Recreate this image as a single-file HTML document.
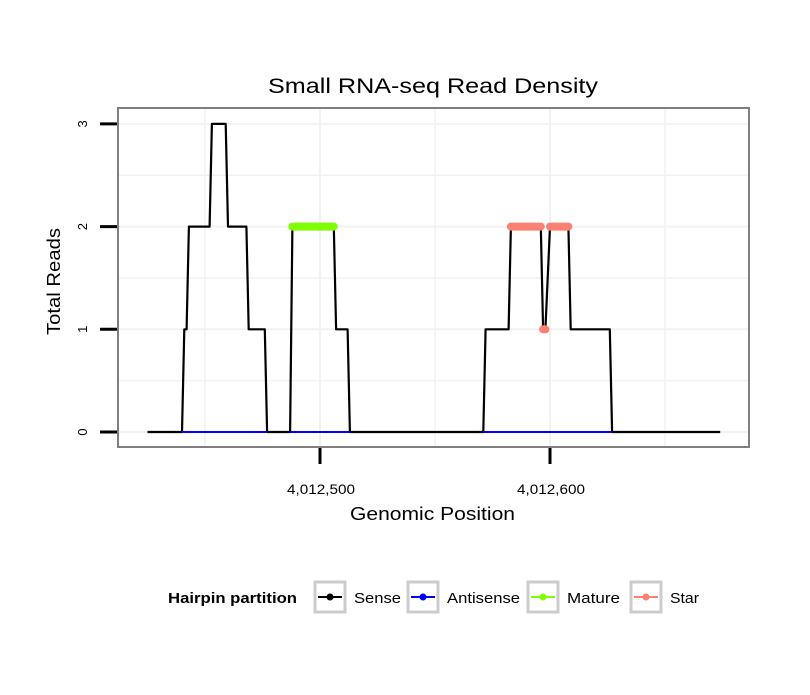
<!DOCTYPE html>
<html><head><meta charset="utf-8"><style>
body{margin:0;background:#fff;font-family:"Liberation Sans",sans-serif}
</style></head><body>
<svg id="chart" width="810" height="690" xmlns="http://www.w3.org/2000/svg">
<rect width="810" height="690" fill="#fff"/>
<text x="268" y="93" font-size="21" textLength="330" lengthAdjust="spacingAndGlyphs">Small RNA-seq Read Density</text>
<g id="grid"></g>
<g id="marks"></g>
<rect x="118" y="108" width="631" height="339" fill="none" stroke="#7f7f7f" stroke-width="2"/>
<g id="axes"></g>
<text x="350" y="520" font-size="18.5" textLength="165" lengthAdjust="spacingAndGlyphs">Genomic Position</text>
<text transform="translate(60,335) rotate(-90)" font-size="18.5" textLength="107" lengthAdjust="spacingAndGlyphs">Total Reads</text>
<g>
<text x="168" y="603" font-size="15" font-weight="bold" textLength="129" lengthAdjust="spacingAndGlyphs">Hairpin partition</text>
<g><rect x="315" y="582" width="30" height="30" fill="none" stroke="#ccc" stroke-width="3"/><line x1="318" y1="597" x2="342" y2="597" stroke="#000" stroke-width="2"/><circle cx="330" cy="597" r="3.5" fill="#000"/><text x="354" y="603" font-size="15" textLength="47" lengthAdjust="spacingAndGlyphs">Sense</text></g>
<g><rect x="408" y="582" width="30" height="30" fill="none" stroke="#ccc" stroke-width="3"/><line x1="411" y1="597" x2="435" y2="597" stroke="#00f" stroke-width="2"/><circle cx="423" cy="597" r="3.5" fill="#00f"/><text x="447" y="603" font-size="15" textLength="73" lengthAdjust="spacingAndGlyphs">Antisense</text></g>
<g><rect x="528" y="582" width="30" height="30" fill="none" stroke="#ccc" stroke-width="3"/><line x1="531" y1="597" x2="555" y2="597" stroke="#7fff00" stroke-width="2"/><circle cx="543" cy="597" r="3.5" fill="#7fff00"/><text x="567" y="603" font-size="15" textLength="53" lengthAdjust="spacingAndGlyphs">Mature</text></g>
<g><rect x="631" y="582" width="30" height="30" fill="none" stroke="#ccc" stroke-width="3"/><line x1="634" y1="597" x2="658" y2="597" stroke="#fa8072" stroke-width="2"/><circle cx="646" cy="597" r="3.5" fill="#fa8072"/><text x="670" y="603" font-size="15" textLength="29" lengthAdjust="spacingAndGlyphs">Star</text></g>
</g>
</svg>
<script>
const sensePos = [4012425,4012440,4012441,4012442,4012443,4012452,4012453,4012459,4012460,4012468,4012469,4012476,4012477,4012487,4012488,4012506,4012507,4012512,4012513,4012571,4012572,4012582,4012583,4012596,4012597,4012598,4012600,4012608,4012609,4012626,4012627,4012674];
const senseVal = [0,0,1,1,2,2,3,3,2,2,1,1,0,0,2,2,1,1,0,0,1,1,2,2,1,1,2,2,1,1,0,0];
const antisenseStart = [4012440,4012487,4012571];
const antisenseEnd = [4012477,4012513,4012627];
const matureStart = [4012488];
const matureEnd = [4012506];
const matureVal = [2];
const starStart = [4012583,4012597,4012600];
const starEnd = [4012596,4012598,4012608];
const starVal = [2,1,2];
const xTicks = [4012500,4012600];
const xTickLabels = ["4,012,500","4,012,600"];
const yTicks = [0,1,2,3];

const X = v => 320 + (v - 4012500) * 2.3;
const Y = v => 432 - v * 102.7;
const NS = "http://www.w3.org/2000/svg";
function mk(tag, attrs, parent){const e=document.createElementNS(NS,tag);for(const k in attrs)e.setAttribute(k,attrs[k]);parent.appendChild(e);return e;}
const grid=document.getElementById('grid'), marks=document.getElementById('marks'), axes=document.getElementById('axes');
for(let v=-0.5; v<=3.5; v+=0.5){const y=Y(v); if(y<109||y>446) continue;
 const l=mk('line',{x1:119,x2:748,y1:y,y2:y,stroke:'#f2f2f2','stroke-width':Number.isInteger(v)?2:1.5},grid);
 
 }
for(let v=4012350; v<=4012750; v+=50){const x=X(v); if(x<119||x>748) continue;
 const l=mk('line',{x1:x,x2:x,y1:109,y2:446,stroke:'#f2f2f2','stroke-width':v%100===0?2:1.5},grid);
 
 }
const sp=mk('polyline',{points:sensePos.map((p,i)=>X(p)+','+Y(senseVal[i])).join(' '),fill:'none',stroke:'#000','stroke-width':2.2,'stroke-linejoin':'round'},marks);


antisenseStart.forEach((s,i)=>{const l=mk('line',{x1:X(s),x2:X(antisenseEnd[i]),y1:Y(0),y2:Y(0),stroke:'#00f','stroke-width':2},marks);
 
 });
matureStart.forEach((s,i)=>{const l=mk('line',{x1:X(s),x2:X(matureEnd[i]),y1:Y(matureVal[i]),y2:Y(matureVal[i]),stroke:'#7fff00','stroke-width':8,'stroke-linecap':'round'},marks);
 
 });
starStart.forEach((s,i)=>{const l=mk('line',{x1:X(s),x2:X(starEnd[i]),y1:Y(starVal[i]),y2:Y(starVal[i]),stroke:'#fa8072','stroke-width':8,'stroke-linecap':'round'},marks);
 
 });
yTicks.forEach(v=>{const y=Y(v);
 const t=mk('line',{x1:100,x2:117,y1:y,y2:y,stroke:'#000','stroke-width':3},axes);
 
 
 const tx=mk('text',{transform:`translate(87,${y}) rotate(-90)`,'font-size':13,'text-anchor':'middle'},axes);
 tx.textContent=v;
 
 });
xTicks.forEach((v,i)=>{const x=X(v);
 const t=mk('line',{x1:x,x2:x,y1:448,y2:464,stroke:'#000','stroke-width':3},axes);
 
 
 const tx=mk('text',{x:x-33,y:494,'font-size':14,textLength:68,lengthAdjust:'spacingAndGlyphs'},axes);
 tx.textContent=xTickLabels[i];
 
 });
</script>
</body></html>
